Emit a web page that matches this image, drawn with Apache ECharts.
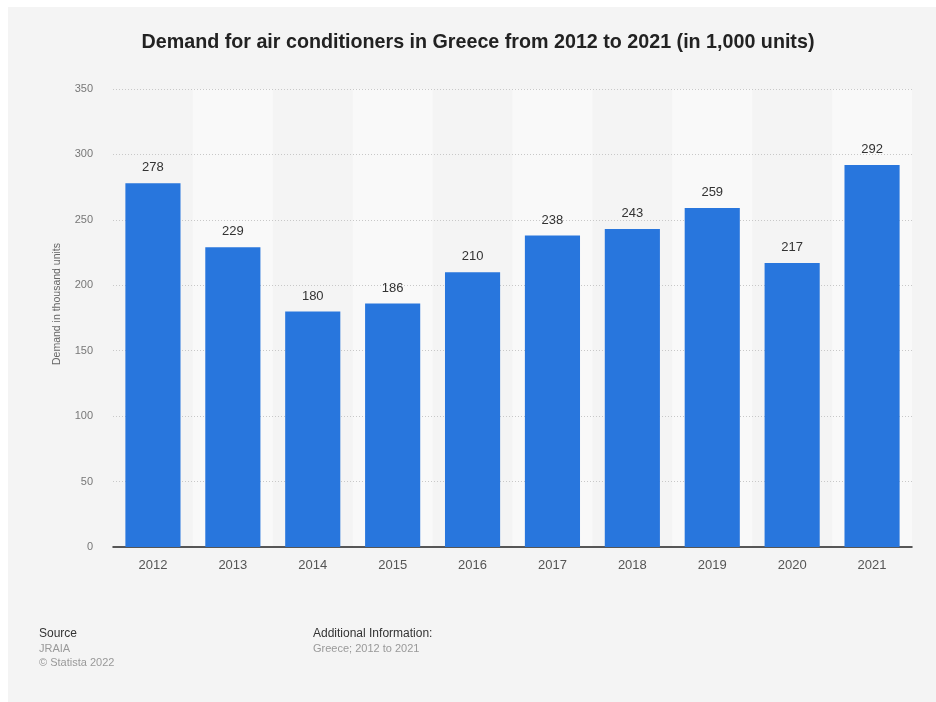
<!DOCTYPE html>
<html>
<head>
<meta charset="utf-8">
<script src="https://cdn.jsdelivr.net/npm/echarts@6/dist/echarts.min.js"></script>
<style>
  html, body { margin: 0; padding: 0; background: #ffffff; }
  #frame { position: absolute; left: 8px; top: 7px; width: 928px; height: 695px; background: #f4f4f4; }
  #chart { position: absolute; left: 0; top: 0; width: 936px; height: 702px; }
</style>
</head>
<body>
<div id="frame"></div>
<div id="chart"></div>
<script>
// Demand for air conditioners in Greece, thousand units
const years = ['2012', '2013', '2014', '2015', '2016', '2017', '2018', '2019', '2020', '2021'];
const demand = [278, 229, 180, 186, 210, 238, 243, 259, 217, 292];
const yTicks = { min: 0, max: 350, interval: 50 };

const chart = echarts.init(document.getElementById('chart'), null, { renderer: 'canvas' });
const fontFamily = '"Liberation Sans", Arial, Helvetica, sans-serif';

chart.setOption({
  backgroundColor: 'transparent',
  textStyle: { fontFamily: fontFamily },
  title: {
    text: 'Demand for air conditioners in Greece from 2012 to 2021 (in 1,000 units)',
    left: 473,
    top: 28,
    textAlign: 'center',
    textStyle: { fontFamily: fontFamily, fontSize: 19.7, fontWeight: 'bold', color: '#222222' }
  },
  grid: { left: 113, right: 24, top: 89, bottom: 155, containLabel: false },
  xAxis: {
    type: 'category',
    data: years,
    z: 0,
    axisLine: { show: true, lineStyle: { color: '#222222', width: 1.5 } },
    axisTick: { show: false },
    axisLabel: { color: '#555555', fontSize: 13, margin: 12, fontFamily: fontFamily },
    splitArea: { show: true, areaStyle: { color: ['rgba(244,244,244,0)', '#f9f9f9'] } },
    splitLine: { show: false }
  },
  yAxis: {
    type: 'value',
    z: 1,
    min: yTicks.min,
    max: yTicks.max,
    interval: yTicks.interval,
    name: 'Demand in thousand units',
    nameLocation: 'middle',
    nameGap: 50,
    nameRotate: 90,
    nameTextStyle: { color: '#666666', fontSize: 10.5, fontFamily: fontFamily, padding: [0, 0, 0, 28] },
    axisLine: { show: false },
    axisTick: { show: false },
    axisLabel: { color: '#777777', fontSize: 11, margin: 20, fontFamily: fontFamily },
    splitLine: { show: true, showMinLine: false, lineStyle: { color: '#c8c8c8', type: [1, 2], width: 1 } }
  },
  series: [{
    type: 'bar',
    data: demand,
    barWidth: '69%',
    itemStyle: { color: '#2876dd' },
    label: {
      show: true,
      position: 'top',
      distance: 9,
      color: '#333333',
      fontSize: 13,
      fontFamily: fontFamily
    },
    z: 3
  }],
  graphic: [
    { type: 'text', left: 39, top: 628, style: { text: 'Source', fill: '#333333', font: '12px ' + fontFamily } },
    { type: 'text', left: 39, top: 643, style: { text: 'JRAIA', fill: '#999999', font: '11px ' + fontFamily } },
    { type: 'text', left: 39, top: 657, style: { text: '\u00A9 Statista 2022', fill: '#999999', font: '11px ' + fontFamily } },
    { type: 'text', left: 313, top: 628, style: { text: 'Additional Information:', fill: '#333333', font: '12px ' + fontFamily } },
    { type: 'text', left: 313, top: 643, style: { text: 'Greece; 2012 to 2021', fill: '#999999', font: '11px ' + fontFamily } }
  ]
});
</script>
</body>
</html>
